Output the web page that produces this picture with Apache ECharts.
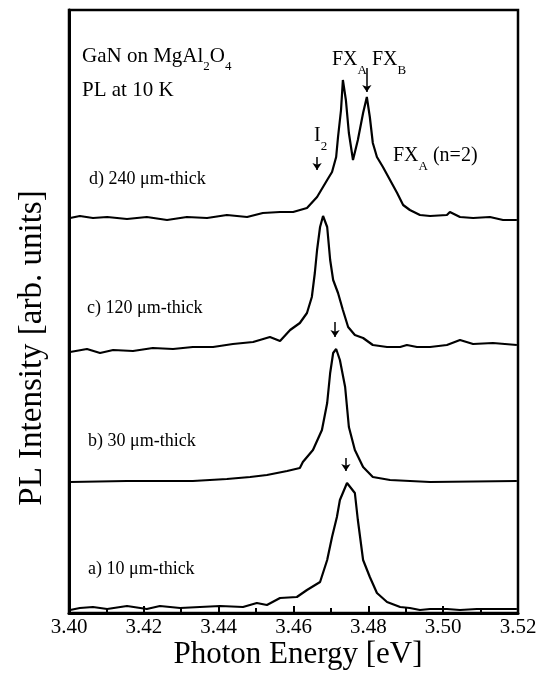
<!DOCTYPE html>
<html>
<head>
    <meta charset="UTF-8">
    <title>GaN PL spectra</title>
    <style>
        html, body {
            height: 100%;
            width: 100%;
            margin: 0;
            padding: 0;
            background: #fff;
        }
    </style>
    <script src="https://cdn.jsdelivr.net/npm/echarts@6/dist/echarts.min.js"></script>
</head>
<body>
<div id="main" style="width: 543px; height: 688px;"></div>

<script type="text/javascript">
    // photon energy (eV) and intensity (arb. units)
    // a) 10 um-thick
    var eA = [3.4003, 3.4029, 3.4064, 3.4102, 3.4155, 3.4208, 3.4243, 3.4297, 3.4350, 3.4404,
        3.4465, 3.4502, 3.4529, 3.4564, 3.4609, 3.4636, 3.4671, 3.4690, 3.4703, 3.4716,
        3.4724, 3.4743, 3.4764, 3.4772, 3.4786, 3.4804, 3.4823, 3.4850, 3.4885, 3.4911,
        3.4938, 3.4965, 3.5010, 3.5045, 3.5090, 3.5133, 3.5197];
    var iA = [-1, 1, 2, 0, 3, 0, 3, 1, 2, 3,
        2, 6, 4, 11, 12, 19, 27, 49, 72, 92,
        109, 126, 116, 89, 49, 32, 16, 7, 2, 1,
        -1, 0, 0, -1, 0, 0, 0];
    // b) 30 um-thick
    var eB = [3.4003, 3.4155, 3.4331, 3.4422, 3.4484, 3.4529, 3.4583, 3.4617, 3.4625, 3.4652,
        3.4676, 3.4690, 3.4698, 3.4706, 3.4714, 3.4724, 3.4738, 3.4748, 3.4764, 3.4786,
        3.4812, 3.4858, 3.4965, 3.5197];
    var iB = [-1, 0, 0, 2, 4, 6, 10, 13, 19, 31,
        51, 78, 108, 128, 132, 121, 94, 54, 31, 14,
        4, 1, -1, 0];
    // c) 120 um-thick
    var eC = [3.4003, 3.4048, 3.4083, 3.4118, 3.4171, 3.4224, 3.4278, 3.4331, 3.4385, 3.4438,
        3.4492, 3.4537, 3.4564, 3.4591, 3.4617, 3.4636, 3.4649, 3.4657, 3.4663, 3.4671,
        3.4679, 3.4690, 3.4698, 3.4706, 3.4719, 3.4732, 3.4746, 3.4764, 3.4786, 3.4812,
        3.4850, 3.4885, 3.4903, 3.4930, 3.4965, 3.5010, 3.5045, 3.5080, 3.5133, 3.5197];
    var iC = [-3, 0, -4, -1, -2, 1, 0, 2, 2, 5,
        7, 12, 8, 19, 26, 36, 52, 76, 99, 122,
        133, 122, 89, 69, 56, 39, 22, 14, 11, 4,
        2, 2, 4, 2, 2, 4, 9, 5, 6, 4];
    // d) 240 um-thick
    var eD = [3.4003, 3.4029, 3.4064, 3.4102, 3.4155, 3.4208, 3.4262, 3.4315, 3.4369, 3.4422,
        3.4476, 3.4518, 3.4564, 3.4599, 3.4636, 3.4663, 3.4690, 3.4703, 3.4714, 3.4719,
        3.4727, 3.4732, 3.4740, 3.4748, 3.4759, 3.4772, 3.4786, 3.4796, 3.4804, 3.4812,
        3.4823, 3.4839, 3.4858, 3.4877, 3.4893, 3.4911, 3.4938, 3.4965, 3.5010, 3.5018,
        3.5045, 3.5080, 3.5125, 3.5160, 3.5197];
    var iD = [0, 2, 0, 1, -1, 1, -2, 1, 0, 3,
        1, 5, 6, 6, 10, 21, 38, 46, 61, 81,
        108, 138, 118, 85, 58, 78, 105, 121, 101, 75,
        61, 51, 38, 25, 13, 8, 3, 2, 3, 6,
        1, 0, 1, -2, -2];
    // vertical offsets of the stacked traces
    var offsets = [4, 132, 264, 395];
    // arrows: [energy, from, to]
    var arrows = [[3.4740, 155, 142], [3.4711, 291, 276], [3.4663, 456, 443], [3.4796, 545, 521]];
    var xTicks = [3.40, 3.52, 0.02];

    var serif = '"Liberation Serif", "Times New Roman", serif';

    function toData(e, v, off) {
        var out = [];
        for (var i = 0; i < e.length; i++) {
            out.push([e[i], v[i] + off]);
        }
        return out;
    }

    function lineSeries(name, e, v, off) {
        return {
            name: name,
            type: 'line',
            data: toData(e, v, off),
            showSymbol: false,
            symbol: 'none',
            lineStyle: {color: '#000', width: 2.2},
            silent: true
        };
    }

    var arrowLines = [];
    for (var k = 0; k < arrows.length; k++) {
        arrowLines.push([{coord: [arrows[k][0], arrows[k][1]]}, {coord: [arrows[k][0], arrows[k][2]]}]);
    }

    var sub = {fontSize: 13, fontFamily: serif, lineHeight: 13, verticalAlign: 'bottom', fill: '#000'};
    function richLabel(text, x, y, size) {
        return {
            type: 'text',
            x: x,
            y: y,
            silent: true,
            style: {
                text: text,
                fill: '#000',
                textAlign: 'left',
                textVerticalAlign: 'middle',
                rich: {
                    m: {fontSize: size, fontFamily: serif, lineHeight: 35, verticalAlign: 'middle'},
                    s: sub
                }
            }
        };
    }

    var myChart = echarts.init(document.getElementById('main'));
    var option = {
        animation: false,
        grid: {
            left: 69,
            right: 25,
            top: 10,
            bottom: 75,
            show: true,
            borderColor: '#000',
            borderWidth: 2.5,
            containLabel: false
        },
        xAxis: {
            type: 'value',
            min: xTicks[0],
            max: xTicks[1],
            interval: xTicks[2],
            axisLine: {show: true, onZero: false, lineStyle: {color: '#000', width: 3}},
            axisTick: {show: true, inside: true, length: 7, lineStyle: {color: '#000', width: 2}},
            minorTick: {show: true, splitNumber: 2, length: 5, lineStyle: {color: '#000', width: 2}},
            splitLine: {show: false},
            axisLabel: {
                color: '#000',
                fontFamily: serif,
                fontSize: 21,
                margin: 4,
                formatter: function (v) {
                    return v.toFixed(2);
                }
            }
        },
        yAxis: {
            type: 'value',
            min: 0,
            max: 603,
            axisLine: {show: true, lineStyle: {color: '#000', width: 3}},
            axisTick: {show: false},
            axisLabel: {show: false},
            splitLine: {show: false}
        },
        series: [
            lineSeries('a', eA, iA, offsets[0]),
            lineSeries('b', eB, iB, offsets[1]),
            lineSeries('c', eC, iC, offsets[2]),
            lineSeries('d', eD, iD, offsets[3]),
            {
                type: 'line',
                data: [],
                silent: true,
                markLine: {
                    silent: true,
                    symbol: ['none', 'arrow'],
                    symbolSize: 7,
                    label: {show: false},
                    lineStyle: {color: '#000', width: 1.5, type: 'solid'},
                    data: arrowLines
                }
            }
        ],
        graphic: [
            {
                type: 'text', x: 32, y: 348, rotation: Math.PI / 2, silent: true,
                style: {
                    text: 'PL Intensity [arb. units]', fill: '#000',
                    font: '33px ' + serif, textAlign: 'center', textVerticalAlign: 'middle'
                }
            },
            {
                type: 'text', x: 298, y: 655, silent: true,
                style: {
                    text: 'Photon Energy [eV]', fill: '#000',
                    font: '31px ' + serif, textAlign: 'center', textVerticalAlign: 'middle'
                }
            },
            richLabel('{m|GaN on MgAl}{s|2}{m|O}{s|4}', 82, 56, 21),
            richLabel('{m|PL at 10 K}', 82, 90, 21),
            richLabel('{m|FX}{s|A}', 332, 60, 20),
            richLabel('{m|FX}{s|B}', 372, 60, 20),
            richLabel('{m|I}{s|2}', 314, 136, 20),
            richLabel('{m|FX}{s|A}{m| (n=2)}', 393, 156, 20),
            richLabel('{m|d) 240 \u03bcm-thick}', 89, 179, 18),
            richLabel('{m|c) 120 \u03bcm-thick}', 87, 308, 18),
            richLabel('{m|b) 30 \u03bcm-thick}', 88, 441, 18),
            richLabel('{m|a) 10 \u03bcm-thick}', 88, 569, 18)
        ]
    };
    myChart.setOption(option);
</script>
</body>
</html>
